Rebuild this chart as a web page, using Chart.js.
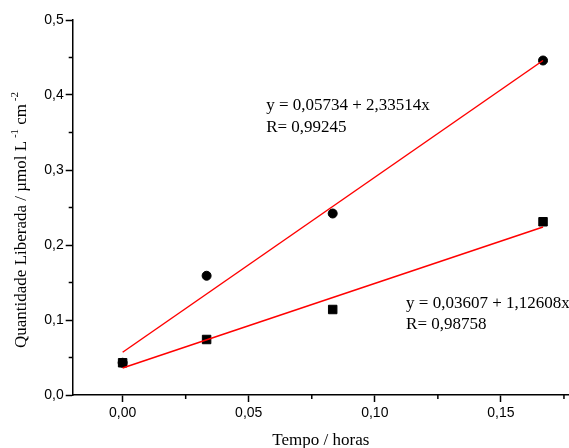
<!DOCTYPE html>
<html>
<head>
<meta charset="utf-8">
<script src="https://cdn.jsdelivr.net/npm/chart.js@4/dist/chart.umd.min.js"></script>
<style>
  html, body { margin: 0; padding: 0; background: #fff; }
  #wrap { width: 569px; height: 448px; }
</style>
</head>
<body>
<div id="wrap"><canvas id="chart" width="569" height="448"></canvas></div>
<script>
// ******************************************************** DATA

var tempo        = [0, 0.0333, 0.0833, 0.1667];
var circulos     = [0.043, 0.159, 0.242, 0.446];
var quadrados    = [0.043, 0.074, 0.114, 0.231];

// fitted lines (end points)
var ajusteX      = [0, 0.1667];
var ajusteCirc   = [0.057, 0.446];
var ajusteQuad   = [0.036, 0.224];

var xTicks       = [0, 0.05, 0.10, 0.15];
var xMinor       = [0.025, 0.075, 0.125, 0.175];
var yTicks       = [0, 0.1, 0.2, 0.3, 0.4, 0.5];
var yMinor       = [0.05, 0.15, 0.25, 0.35, 0.45];

var eqCirc       = ["y = 0,05734 + 2,33514x", "R= 0,99245"];
var eqQuad       = ["y = 0,03607 + 1,12608x", "R= 0,98758"];

function pts(xs, ys) {
  return xs.map(function (x, i) { return { x: x, y: ys[i] }; });
}
function virgula(v, d) { return v.toFixed(d).replace('.', ','); }

// ******************************************************** PLUGIN (minor ticks, y title, equations)

var extras = {
  id: 'extras',
  afterDraw: function (chart) {
    var ctx = chart.ctx, xs = chart.scales.x, ys = chart.scales.y;
    ctx.save();
    ctx.strokeStyle = '#000';
    ctx.lineWidth = 1.5;
    xMinor.forEach(function (v) {
      var px = xs.getPixelForValue(v);
      ctx.beginPath(); ctx.moveTo(px, xs.top); ctx.lineTo(px, xs.top + 4); ctx.stroke();
    });
    yMinor.forEach(function (v) {
      var py = ys.getPixelForValue(v);
      ctx.beginPath(); ctx.moveTo(ys.right, py); ctx.lineTo(ys.right - 4, py); ctx.stroke();
    });

    // y axis title with superscripts
    var parts = [['Quantidade Liberada / \u00b5mol L', false], [' -1', true], [' cm', false], [' -2', true]];
    var big = '17px "Liberation Serif"', small = '11px "Liberation Serif"';
    var total = 0;
    parts.forEach(function (p) { ctx.font = p[1] ? small : big; total += ctx.measureText(p[0]).width; });
    ctx.translate(22, 220);
    ctx.rotate(-Math.PI / 2);
    ctx.fillStyle = '#000';
    ctx.textBaseline = 'middle';
    var cx = -total / 2;
    parts.forEach(function (p) {
      ctx.font = p[1] ? small : big;
      ctx.fillText(p[0], cx, p[1] ? -7 : 0);
      cx += ctx.measureText(p[0]).width;
    });
    ctx.restore();

    // equations
    ctx.save();
    ctx.fillStyle = '#000';
    ctx.font = '17px "Liberation Serif"';
    ctx.textBaseline = 'alphabetic';
    var x1 = xs.getPixelForValue(0.0569), y1 = ys.getPixelForValue(0.38);
    ctx.fillText(eqCirc[0], x1, y1);
    ctx.fillText(eqCirc[1], x1, y1 + 22);
    var x2 = xs.getPixelForValue(0.1124), y2 = ys.getPixelForValue(0.116);
    ctx.fillText(eqQuad[0], x2, y2);
    ctx.fillText(eqQuad[1], x2, y2 + 21);
    ctx.restore();
  }
};

// ******************************************************** CHART

var ctx = document.getElementById('chart').getContext('2d');

new Chart(ctx, {
  type: 'scatter',
  data: {
    datasets: [{
      type: 'line',
      data: pts(ajusteX, ajusteCirc),
      borderColor: '#ff0000',
      borderWidth: 1.5,
      pointRadius: 0,
      order: 0
    }, {
      type: 'line',
      data: pts(ajusteX, ajusteQuad),
      borderColor: '#ff0000',
      borderWidth: 1.5,
      pointRadius: 0,
      order: 0
    }, {
      data: pts(tempo, circulos),
      pointStyle: 'circle',
      pointRadius: 4.5,
      borderWidth: 1,
      backgroundColor: '#000',
      borderColor: '#000',
      order: 1
    }, {
      data: pts(tempo, quadrados),
      pointStyle: 'rect',
      pointRadius: 6,
      borderWidth: 1,
      backgroundColor: '#000',
      borderColor: '#000',
      order: 1
    }]
  },
  options: {
    responsive: false,
    animation: false,
    layout: { autoPadding: false, padding: { top: 20, right: 0, left: 0, bottom: 0 } },
    plugins: {
      legend: { display: false },
      tooltip: { enabled: false }
    },
    scales: {
      x: {
        type: 'linear',
        min: -0.0198,
        max: 0.177,
        afterBuildTicks: function (s) { s.ticks = xTicks.map(function (v) { return { value: v }; }); },
        afterFit: function (s) { s.height = 53; s.paddingRight = 0; s.paddingLeft = 0; },
        border: { display: true, color: '#000', width: 1.5 },
        grid: { drawOnChartArea: false, tickLength: 7, tickWidth: 1.5, tickColor: '#000' },
        ticks: {
          color: '#000',
          padding: 3,
          maxRotation: 0,
          font: { family: 'Liberation Sans', size: 14 },
          callback: function (v) { return virgula(v, 2); }
        },
        title: {
          display: true,
          text: 'Tempo / horas',
          color: '#000',
          font: { family: 'Liberation Serif', size: 17 },
          padding: { top: 8, bottom: -3 }
        }
      },
      y: {
        min: 0,
        max: 0.5,
        afterBuildTicks: function (s) { s.ticks = yTicks.map(function (v) { return { value: v }; }); },
        afterFit: function (s) { s.width = 72.7; },
        border: { display: true, color: '#000', width: 1.5 },
        grid: { drawOnChartArea: false, tickLength: 7, tickWidth: 1.5, tickColor: '#000' },
        ticks: {
          color: '#000',
          padding: 2,
          font: { family: 'Liberation Sans', size: 14 },
          callback: function (v) { return virgula(v, 1); }
        }
      }
    }
  },
  plugins: [extras]
});
</script>
</body>
</html>
